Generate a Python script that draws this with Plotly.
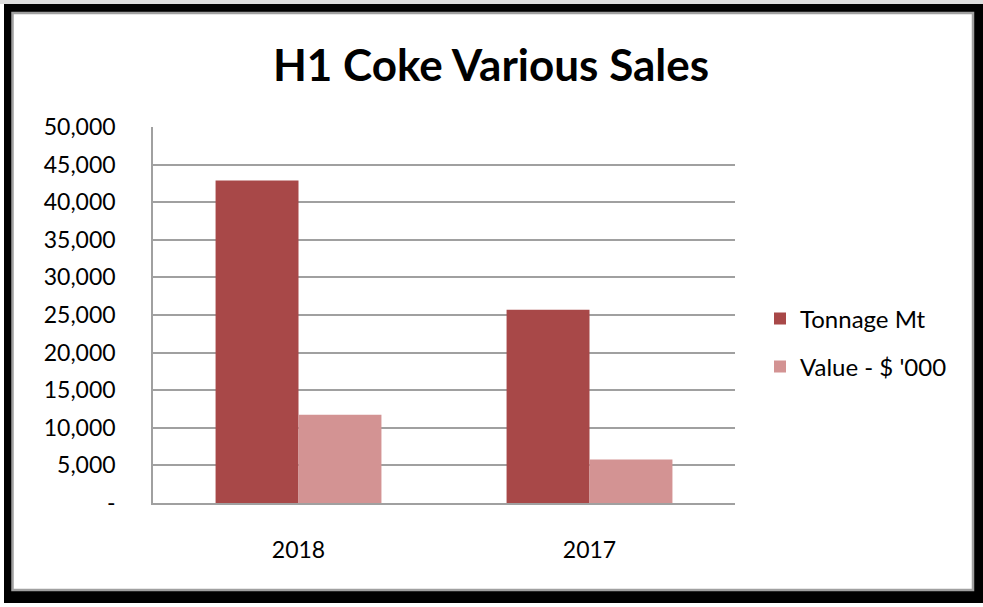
import plotly.graph_objects as go

categories = ["2018", "2017"]
tonnage = [42900, 25700]
value_k = [11750, 5800]
series_names = ["Tonnage Mt", "Value - $ '000"]
tick_vals = [0, 5000, 10000, 15000, 20000, 25000, 30000, 35000, 40000, 45000, 50000]
tick_text = ["-", "5,000", "10,000", "15,000", "20,000", "25,000", "30,000",
             "35,000", "40,000", "45,000", "50,000"]
title_text = "H1 Coke Various Sales"

W, H = 983, 607
PL, PR, PT, PB = 153, 735, 127, 503  # plot area in pixels


def px(x):
    return (x - PL) / (PR - PL)


def py(y):
    return (PB - y) / (PB - PT)


FONT = "Lato"

fig = go.Figure()
fig.add_trace(go.Bar(x=categories, y=tonnage, name=series_names[0],
                     marker=dict(color="#A84848", line=dict(width=0)),
                     legend="legend"))
fig.add_trace(go.Bar(x=categories, y=value_k, name=series_names[1],
                     marker=dict(color="#D39393", line=dict(width=0)),
                     legend="legend2"))

shapes = [
    # top light strip
    dict(type="rect", xref="paper", yref="paper", x0=px(0), x1=px(W), y0=py(0), y1=py(4),
         fillcolor="#dcdcdc", line=dict(width=0), layer="below"),
    # black frame
    dict(type="rect", xref="paper", yref="paper", x0=px(4), x1=px(W), y0=py(4), y1=py(603),
         fillcolor="#000000", line=dict(width=0), layer="below"),
    # white inner panel with gray border
    dict(type="rect", xref="paper", yref="paper", x0=px(12.5), x1=px(973), y0=py(13), y1=py(590),
         fillcolor="#ffffff", line=dict(color="#a0a0a0", width=2.5), layer="below"),
]

fig.update_layout(
    width=W, height=H,
    margin=dict(l=PL, r=W - PR, t=PT, b=H - PB, pad=0),
    paper_bgcolor="#ffffff",
    plot_bgcolor="#ffffff",
    barmode="group",
    bargap=0.43,
    bargroupgap=0,
    shapes=shapes,
    font=dict(family=FONT, color="#000000", size=23),
    title=dict(text="<b>" + title_text + "</b>", xref="paper", yref="container",
               x=px(491), xanchor="center", y=1 - 66 / H, yanchor="middle",
               font=dict(family=FONT, size=44, color="#000000")),
    showlegend=True,
    legend=dict(x=px(760), xanchor="left", y=py(319), yanchor="middle",
                bgcolor="rgba(0,0,0,0)", font=dict(family=FONT, size=24)),
    legend2=dict(x=px(760), xanchor="left", y=py(367), yanchor="middle",
                 bgcolor="rgba(0,0,0,0)", font=dict(family=FONT, size=24)),
    xaxis=dict(showgrid=False, showline=True, linecolor="#a0a0a0", linewidth=1.5,
               ticks="", tickfont=dict(family=FONT, size=23), ticklabelstandoff=26,
               zeroline=False),
    yaxis=dict(range=[0, 50000], tickvals=tick_vals, ticktext=tick_text,
               showgrid=True, gridcolor="#a0a0a0", gridwidth=1.5,
               showline=True, linecolor="#a0a0a0", linewidth=1.5, ticks="",
               tickfont=dict(family=FONT, size=23), ticklabelstandoff=31,
               zeroline=False),
)

fig.write_html("out.html", config={"displayModeBar": False},
               post_script="document.body.style.margin='0';document.body.style.overflow='hidden';")
